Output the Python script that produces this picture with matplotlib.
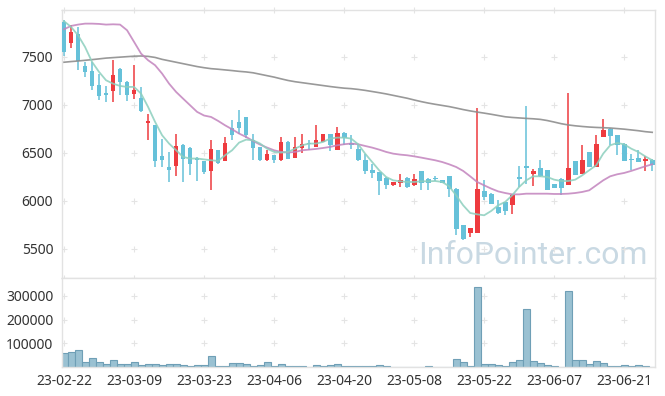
import matplotlib
matplotlib.use("Agg")
import matplotlib.pyplot as plt
import numpy as np

plt.rcParams['font.family'] = ['Noto Sans', 'DejaVu Sans']

# trading days shown on the x axis (every 10th day labelled)
tick_labels = ["23-02-22", "23-03-09", "23-03-23", "23-04-06", "23-04-20",
               "23-05-08", "23-05-22", "23-06-07", "23-06-21"]

opens = [7865, 7643, 7736, 7403, 7351, 7205, 7122, 7146, 7372, 7237,
         7112, 7073, 6813, 6789, 6466, 6352, 6366, 6581, 6556, 6449,
         6413, 6313, 6528, 6417, 6757, 6820, 6872, 6639, 6559, 6424,
         6476, 6424, 6618, 6448, 6552, 6604, 6563, 6618, 6695, 6535,
         6712, 6604, 6545, 6424, 6320, 6302, 6243, 6163, 6188, 6243,
         6163, 6309, 6233, 6243, 6215, 6257, 6129, 5747, 5667, 5667,
         6104, 6077, 5937, 5990, 5955, 6243, 6361, 6285, 6347, 6320,
         6174, 6233, 6170, 6413, 6285, 6507, 6354, 6667, 6754, 6684,
         6597, 6431, 6452, 6417, 6431]
closes = [7552, 7760, 7459, 7344, 7198, 7094, 7101, 7309, 7240, 7101,
          7153, 6935, 6834, 6418, 6424, 6320, 6570, 6442, 6383, 6431,
          6302, 6539, 6396, 6601, 6688, 6757, 6688, 6552, 6424, 6493,
          6424, 6618, 6438, 6566, 6591, 6594, 6632, 6695, 6580, 6712,
          6657, 6580, 6424, 6313, 6292, 6209, 6163, 6198, 6216, 6146,
          6233, 6188, 6188, 6229, 6188, 6129, 5712, 5608, 5719, 6122,
          6042, 5972, 5875, 5896, 6066, 6233, 6347, 6309, 6257, 6118,
          6139, 6139, 6347, 6274, 6424, 6354, 6590, 6743, 6674, 6580,
          6417, 6424, 6406, 6441, 6372]
highs = [7880, 7830, 7813, 7450, 7448, 7327, 7198, 7472, 7380, 7245,
         7414, 7188, 6910, 6795, 6650, 6511, 6695, 6590, 6560, 6455,
         6418, 6639, 6530, 6667, 6848, 6945, 6875, 6702, 6562, 6528,
         6480, 6667, 6620, 6667, 6695, 6639, 6788, 6698, 6698, 6771,
         6715, 6684, 6591, 6493, 6389, 6305, 6246, 6200, 6278, 6246,
         6285, 6312, 6236, 6257, 6218, 6260, 6132, 5750, 5722, 6973,
         6222, 6080, 6007, 5993, 6069, 6361, 6986, 6337, 6431, 6323,
         6177, 6236, 7125, 6416, 6580, 6510, 6684, 6858, 6757, 6687,
         6600, 6493, 6528, 6465, 6434]
lows = [7511, 7597, 7361, 7292, 7153, 7049, 7032, 7032, 7101, 7039,
        7067, 6930, 6640, 6355, 6355, 6199, 6261, 6199, 6275, 6209,
        6278, 6118, 6382, 6414, 6632, 6702, 6660, 6431, 6413, 6413,
        6396, 6420, 6435, 6445, 6504, 6528, 6560, 6615, 6521, 6532,
        6580, 6545, 6413, 6278, 6243, 6066, 6129, 6160, 6146, 6139,
        6160, 6111, 6111, 6208, 6185, 6042, 5649, 5590, 5625, 5664,
        6014, 5969, 5861, 5851, 5868, 6146, 6174, 6153, 6254, 6115,
        6136, 6059, 6167, 6271, 6282, 6351, 6351, 6664, 6580, 6476,
        6414, 6320, 6403, 6309, 6309]
volumes = [58000, 65000, 71000, 21000, 37500, 21000, 12500, 29000, 12500, 12500,
           21000, 8000, 12500, 12500, 8000, 12500, 12500, 8000, 4000, 8000,
           8000, 46000, 4000, 4000, 16500, 16500, 12500, 4000, 8000, 21000,
           4000, 12500, 4000, 4000, 4000, 1500, 8000, 4000, 8000, 12500,
           4000, 4000, 4000, 4000, 4000, 8000, 4000, 1000, 1000, 1000,
           1000, 1000, 4000, 1000, 1000, 1000, 33000, 21000, 4000, 338000,
           12500, 12500, 8000, 4000, 21000, 29000, 246000, 25000, 16500, 8000,
           4000, 1500, 321000, 29000, 29000, 12500, 25000, 16500, 4000, 4000,
           8000, 4000, 8000, 4000, 1500]
ma5 = [7872, 7813, 7726, 7604, 7448, 7344, 7257, 7222, 7198, 7188,
       7188, 7118, 6980, 6824, 6685, 6598, 6529, 6459, 6442, 6442,
       6433, 6424, 6417, 6476, 6528, 6608, 6639, 6632, 6598, 6545,
       6511, 6504, 6511, 6545, 6580, 6598, 6598, 6615, 6650, 6660,
       6660, 6650, 6591, 6493, 6406, 6320, 6250, 6215, 6205, 6198,
       6198, 6205, 6205, 6208, 6198, 6153, 6059, 5955, 5875, 5861,
       5851, 5896, 5955, 5990, 6059, 6146, 6215, 6257, 6257, 6250,
       6222, 6208, 6208, 6222, 6267, 6320, 6372, 6493, 6580, 6604,
       6590, 6545, 6511, 6465, 6424]
ma20 = [7788, 7823, 7837, 7847, 7847, 7844, 7837, 7840, 7837, 7778,
        7657, 7535, 7466, 7414, 7327, 7222, 7136, 7066, 6997, 6928,
        6890, 6875, 6834, 6788, 6747, 6702, 6667, 6625, 6587, 6556,
        6528, 6511, 6504, 6511, 6528, 6535, 6542, 6552, 6563, 6580,
        6591, 6598, 6591, 6573, 6556, 6535, 6511, 6493, 6483, 6476,
        6465, 6452, 6438, 6424, 6406, 6382, 6354, 6313, 6257, 6198,
        6163, 6129, 6100, 6083, 6069, 6069, 6076, 6076, 6076, 6076,
        6073, 6073, 6076, 6083, 6094, 6111, 6163, 6215, 6257, 6278,
        6292, 6313, 6337, 6361, 6382]
ma60 = [7445, 7452, 7458, 7465, 7472, 7480, 7488, 7493, 7498, 7503,
        7508, 7510, 7506, 7495, 7475, 7460, 7445, 7430, 7415, 7400,
        7388, 7378, 7372, 7365, 7358, 7350, 7344, 7335, 7320, 7305,
        7290, 7272, 7255, 7242, 7232, 7222, 7212, 7202, 7192, 7183,
        7175, 7170, 7162, 7152, 7140, 7128, 7115, 7100, 7085, 7070,
        7052, 7035, 7020, 7007, 6995, 6983, 6968, 6952, 6938, 6926,
        6915, 6903, 6890, 6877, 6870, 6865, 6860, 6856, 6850, 6838,
        6822, 6805, 6792, 6783, 6776, 6770, 6766, 6763, 6760, 6754,
        6748, 6740, 6732, 6722, 6715]

UP = '#ee3b3f'
DOWN = '#66c1d9'
GRID = '#e4e4e4'

o = np.array(opens)
c = np.array(closes)
x = np.arange(len(o))
up = c >= o

fig = plt.figure(figsize=(6.65, 3.96), dpi=100)
ax = fig.add_axes([0.0925, 0.298, 0.8925, 0.677])
axv = fig.add_axes([0.0925, 0.073, 0.8925, 0.225], sharex=ax)

# candles
cols = np.where(up, UP, DOWN)
ax.vlines(x, lows, highs, colors=cols, linewidth=1.1, zorder=2)
body_lo = np.minimum(o, c)
body_h = np.maximum(np.abs(c - o), 12)
ax.bar(x, body_h, bottom=body_lo, width=0.68, color=cols, linewidth=0, zorder=3)

# moving averages
ax.plot(x, ma60, color='#8e8e8e', linewidth=1.2, alpha=0.9, zorder=4)
ax.plot(x, ma20, color='#c283bd', linewidth=1.3, alpha=0.85, zorder=4)
ax.plot(x, ma5, color='#8ccfbe', linewidth=1.3, alpha=0.85, zorder=4)

ax.set_ylim(5198, 7990)
ax.set_xlim(-0.36, 84.4)
ax.set_yticks([5500, 6000, 6500, 7000, 7500])

# grid as little crosses (also along the panel edges)
gx = np.arange(0, 90, 10)
for yy in [5500, 6000, 6500, 7000, 7500]:
    ax.scatter(gx, [yy] * len(gx), marker='+', s=14, color=GRID, linewidths=0.8, zorder=1)
for yy in [5198, 7990]:
    ax.scatter(gx, [yy] * len(gx), marker='+', s=14, color=GRID, linewidths=0.8, zorder=1, clip_on=False)

ax.text(0.988, 0.085, "InfoPointer.com", transform=ax.transAxes, ha='right', va='center',
        fontsize=23, color='#c9d9e3', zorder=0, family=['Roboto'])

# volume
axv.bar(x, volumes, width=1.0, color='#9ac1d2', edgecolor='#6f9fb6', linewidth=0.8, zorder=2)
axv.set_ylim(0, 375000)
axv.set_yticks([100000, 200000, 300000])
for yy in [100000, 200000, 300000]:
    axv.scatter(gx, [yy] * len(gx), marker='+', s=14, color=GRID, linewidths=0.8, zorder=1)
axv.set_xticks(gx)
axv.set_xticklabels(tick_labels)

for a in (ax, axv):
    for s in a.spines.values():
        s.set_color('#e2e2e2')
        s.set_linewidth(1.0)
    a.tick_params(length=0, labelsize=10, colors='#333333', pad=6)
ax.tick_params(labelbottom=False)
axv.tick_params(axis='x', pad=5)

fig.savefig("out.png", dpi=100)
